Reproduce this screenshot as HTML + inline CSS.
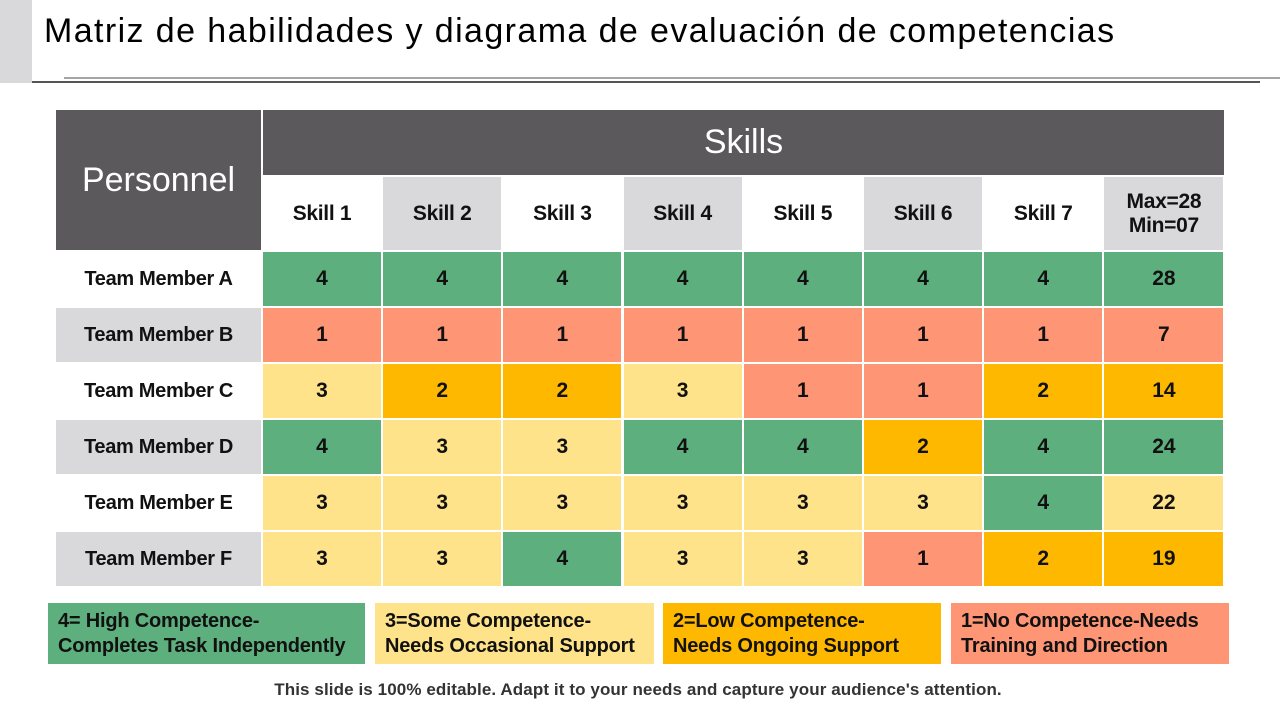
<!DOCTYPE html>
<html><head><meta charset="utf-8"><style>
body{margin:0;width:1280px;height:720px;background:#fff;position:relative;overflow:hidden;font-family:"Liberation Sans",Arial,sans-serif}
.a{position:absolute;box-sizing:border-box;display:flex;align-items:center;justify-content:center;text-align:center}
.b{font-weight:bold;color:#111}
</style></head><body>
<div class="a" style="left:0;top:0;width:32px;height:83px;background:#d9d8da"></div>
<div style="position:absolute;left:44px;top:12px;font-size:34px;letter-spacing:1.4px;color:#000;white-space:nowrap">Matriz de habilidades y diagrama de evaluación de competencias</div>
<div style="position:absolute;left:64px;top:77px;width:1216px;height:2px;background:#a5a5a5"></div>
<div style="position:absolute;left:32px;top:81px;width:1228px;height:2px;background:#555"></div>
<div class="a" style="left:56px;top:110px;width:205px;height:140px;background:#5b595c;color:#fff;font-size:34px">Personnel</div>
<div class="a" style="left:263px;top:110px;width:961px;height:65px;background:#5b595c;color:#fff;font-size:34px">Skills</div>
<div id="grid"></div>
<div class="a b" style="left:48px;top:603px;width:317px;height:61px;background:#5daf7e;justify-content:flex-start;text-align:left;padding-left:10px;font-size:20px;letter-spacing:-0.2px;line-height:25px">4= High Competence-<br>Completes Task Independently</div>
<div class="a b" style="left:375px;top:603px;width:279px;height:61px;background:#ffe38a;justify-content:flex-start;text-align:left;padding-left:10px;font-size:20px;letter-spacing:-0.2px;line-height:25px">3=Some Competence-<br>Needs Occasional Support</div>
<div class="a b" style="left:663px;top:603px;width:278px;height:61px;background:#ffb800;justify-content:flex-start;text-align:left;padding-left:10px;font-size:20px;letter-spacing:-0.2px;line-height:25px">2=Low Competence-<br>Needs Ongoing Support</div>
<div class="a b" style="left:951px;top:603px;width:278px;height:61px;background:#fe9676;justify-content:flex-start;text-align:left;padding-left:10px;font-size:20px;letter-spacing:-0.2px;line-height:25px">1=No Competence-Needs<br>Training and Direction</div>
<div class="a b" style="left:0;top:679px;width:1276px;height:22px;font-size:17px;color:#333;letter-spacing:0.1px">This slide is 100% editable. Adapt it to your needs and capture your audience's attention.</div>
<script>
const skills=["Skill 1","Skill 2","Skill 3","Skill 4","Skill 5","Skill 6","Skill 7"];
const members=["Team Member A","Team Member B","Team Member C","Team Member D","Team Member E","Team Member F"];
const scoresA=[4,4,4,4,4,4,4];
const scoresB=[1,1,1,1,1,1,1];
const scoresC=[3,2,2,3,1,1,2];
const scoresD=[4,3,3,4,4,2,4];
const scoresE=[3,3,3,3,3,3,4];
const scoresF=[3,3,4,3,3,1,2];
const scores=[scoresA,scoresB,scoresC,scoresD,scoresE,scoresF];
const colors={4:"#5daf7e",3:"#ffe38a",2:"#ffb800",1:"#fe9676"};
function totalColor(t){return t>=24?colors[4]:t>=20?colors[3]:t>=10?colors[2]:colors[1];}
const g=document.getElementById('grid');
function colX(i){return 263+i*120.2;}
function rowY(r){return 252+r*56;}
function cell(x,y,w,h,bg,txt,fs,name,ls){const d=document.createElement('div');d.className='a b';d.style.cssText=`left:${x}px;top:${y}px;width:${w}px;height:${h}px;background:${bg};font-size:${fs}px;letter-spacing:${ls||0}px`;d.innerHTML=txt;


g.appendChild(d);}
skills.forEach((s,i)=>cell(colX(i),177,118,73,i%2?"#d9d8da":"#fff",s,21,'skill-header-'+(i+1),-0.3));
cell(colX(7),177,119,73,"#d9d8da","Max=28<br>Min=07",21,'total-header',-0.3);
members.forEach((m,r)=>{
 cell(56,rowY(r),205,54,r%2?"#d9d8da":"#fff",m,20,'member-label-'+String.fromCharCode(97+r),-0.3);
 let t=0;
 scores[r].forEach((v,i)=>{t+=v;cell(colX(i),rowY(r),118,54,colors[v],v,21,'score-cell');});
 cell(colX(7),rowY(r),119,54,totalColor(t),t,21,'total-cell');
});
</script>
</body></html>
